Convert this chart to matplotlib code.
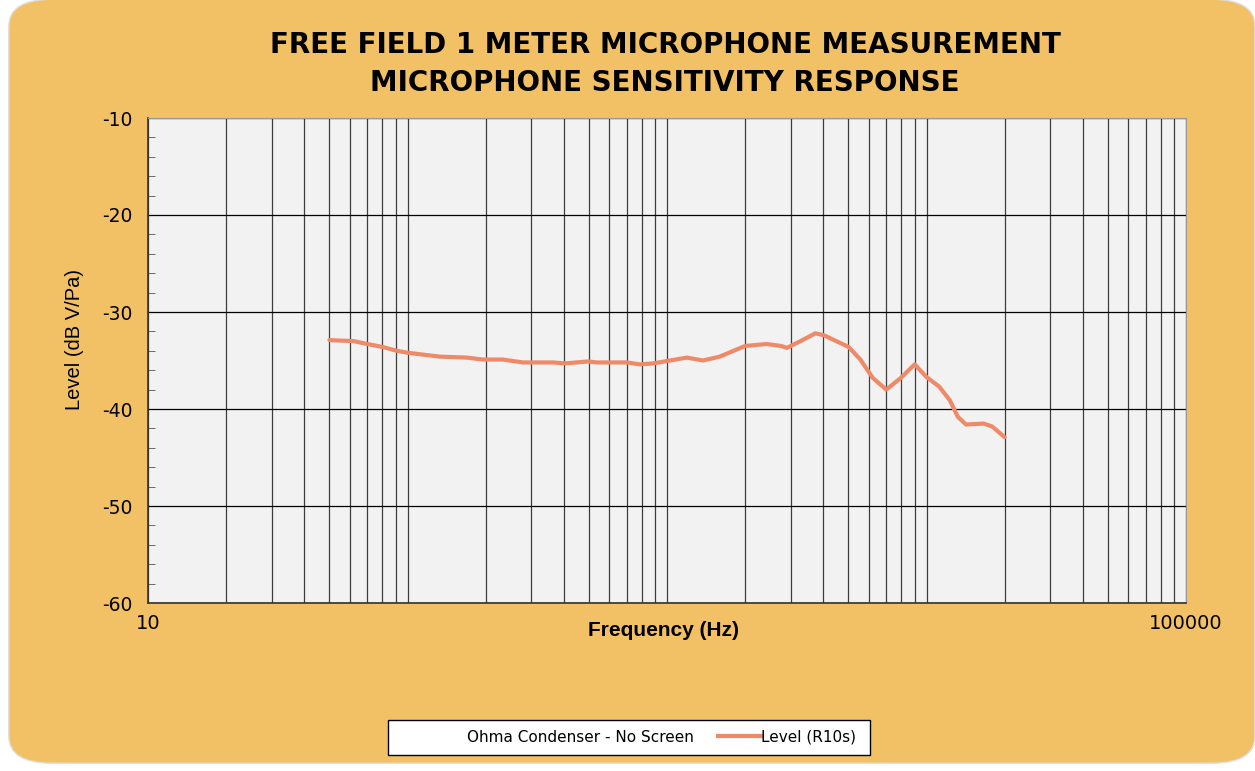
import matplotlib.pyplot as plt
import matplotlib.ticker as mticker
from matplotlib.patches import FancyBboxPatch, Rectangle
from matplotlib.lines import Line2D

plt.rcParams["axes.unicode_minus"] = False

freq = [50, 62, 70, 80, 91, 100, 133, 169, 195, 233, 278, 363, 404, 495, 537, 700,
        786, 885, 1193, 1376, 1597, 2000, 2420, 2750, 2900, 3270, 3730, 4030, 4570,
        5010, 5560, 6210, 7000, 7960, 9000, 10000, 11200, 12300, 13200, 14200,
        16600, 17900, 20000]
level = [-32.9, -33.0, -33.3, -33.6, -34.0, -34.2, -34.6, -34.7, -34.9, -34.9, -35.2,
         -35.2, -35.3, -35.1, -35.2, -35.2, -35.4, -35.3, -34.7, -35.0, -34.6, -33.5,
         -33.3, -33.5, -33.7, -33.0, -32.2, -32.4, -33.1, -33.6, -34.9, -36.8, -38.0,
         -36.8, -35.4, -36.7, -37.7, -39.1, -40.8, -41.6, -41.5, -41.8, -42.9]

title_lines = ["FREE FIELD 1 METER MICROPHONE MEASUREMENT",
               "MICROPHONE SENSITIVITY RESPONSE"]
x_label = "Frequency (Hz)"
y_label = "Level (dB V/Pa)"
series_name = "Level (R10s)"
legend_title = "Ohma Condenser - No Screen"

bg = "#F3C165"
line_col = "#EE8A68"
W, H = 1255, 771

fig = plt.figure(figsize=(12.55, 7.71), dpi=100)
fig.patch.set_facecolor("white")
card = FancyBboxPatch((0.007 + 0.02, 0.0 + 0.03), 0.993 - 0.04, 0.991 - 0.04,
                      boxstyle="round,pad=0.02,rounding_size=0.035",
                      transform=fig.transFigure, facecolor=bg, edgecolor="#E0E0E0",
                      linewidth=1, zorder=-10)
fig.patches.append(card)

ax = fig.add_axes([148 / W, 168 / H, 1038 / W, 485 / H])
ax.set_facecolor("#F2F2F2")

ax.plot(freq, level, color=line_col, linewidth=3, solid_capstyle="round", zorder=3)

ax.set_xscale("log")
ax.set_xlim(10, 100000)
ax.set_ylim(-60, -10)
ax.xaxis.set_major_locator(mticker.FixedLocator([10, 100000]))
ax.xaxis.set_major_formatter(mticker.FuncFormatter(lambda v, p: f"{v:.0f}"))
ax.xaxis.set_minor_locator(mticker.LogLocator(base=10, subs=range(1, 10), numticks=50))
ax.xaxis.set_minor_formatter(mticker.NullFormatter())
ax.yaxis.set_major_locator(mticker.MultipleLocator(10))
ax.yaxis.set_minor_locator(mticker.MultipleLocator(2))

ax.grid(True, which="both", axis="x", color="black", linewidth=0.9, alpha=0.75)
ax.grid(True, which="major", axis="y", color="black", linewidth=0.9)

ax.tick_params(axis="x", which="both", length=0, pad=8, labelsize=14)
ax.tick_params(axis="y", which="major", length=0, pad=11, labelsize=13.5)
ax.tick_params(axis="y", which="minor", direction="in", length=5, color="#555555")
for lab in ax.get_xticklabels() + ax.get_yticklabels():
    lab.set_fontfamily("DejaVu Sans")

for s in ["top", "right"]:
    ax.spines[s].set_color("#999999")
for s in ["left", "bottom"]:
    ax.spines[s].set_color("#333333")
    ax.spines[s].set_linewidth(1.2)

ax.set_xlabel(x_label, fontsize=15, fontweight="bold", family="Liberation Sans")
ax.xaxis.set_label_coords((663 - 148) / 1038, -(630 - 603) / 485)
ax.xaxis.label.set_va("center")
ax.set_ylabel(y_label, fontsize=14.5, family="Liberation Sans")
ax.yaxis.set_label_coords(-(148 - 75) / 1038, (603 - 340) / 485)
ax.yaxis.label.set_va("center")

fig.text(665 / W, 1 - 45 / H, title_lines[0], ha="center", va="center",
         fontsize=20, fontweight="bold", family="DejaVu Sans")
fig.text(665 / W, 1 - 83 / H, title_lines[1], ha="center", va="center",
         fontsize=20, fontweight="bold", family="DejaVu Sans")

# legend box, Excel style
fig.patches.append(Rectangle((388 / W, 1 - 755 / H), 482 / W, 35 / H,
                             transform=fig.transFigure, facecolor="white",
                             edgecolor="black", linewidth=1, zorder=5))
handles = [Line2D([], [], linestyle="none"),
           Line2D([], [], color=line_col, linewidth=3)]
leg = fig.legend(handles, [legend_title, series_name], ncol=2,
                 loc="center", bbox_to_anchor=(640 / W, 1 - 737 / H),
                 frameon=False, fontsize=11, handlelength=2.8, handletextpad=0.0,
                 columnspacing=1.6)
leg.set_zorder(6)

fig.savefig("out.png", dpi=100)
